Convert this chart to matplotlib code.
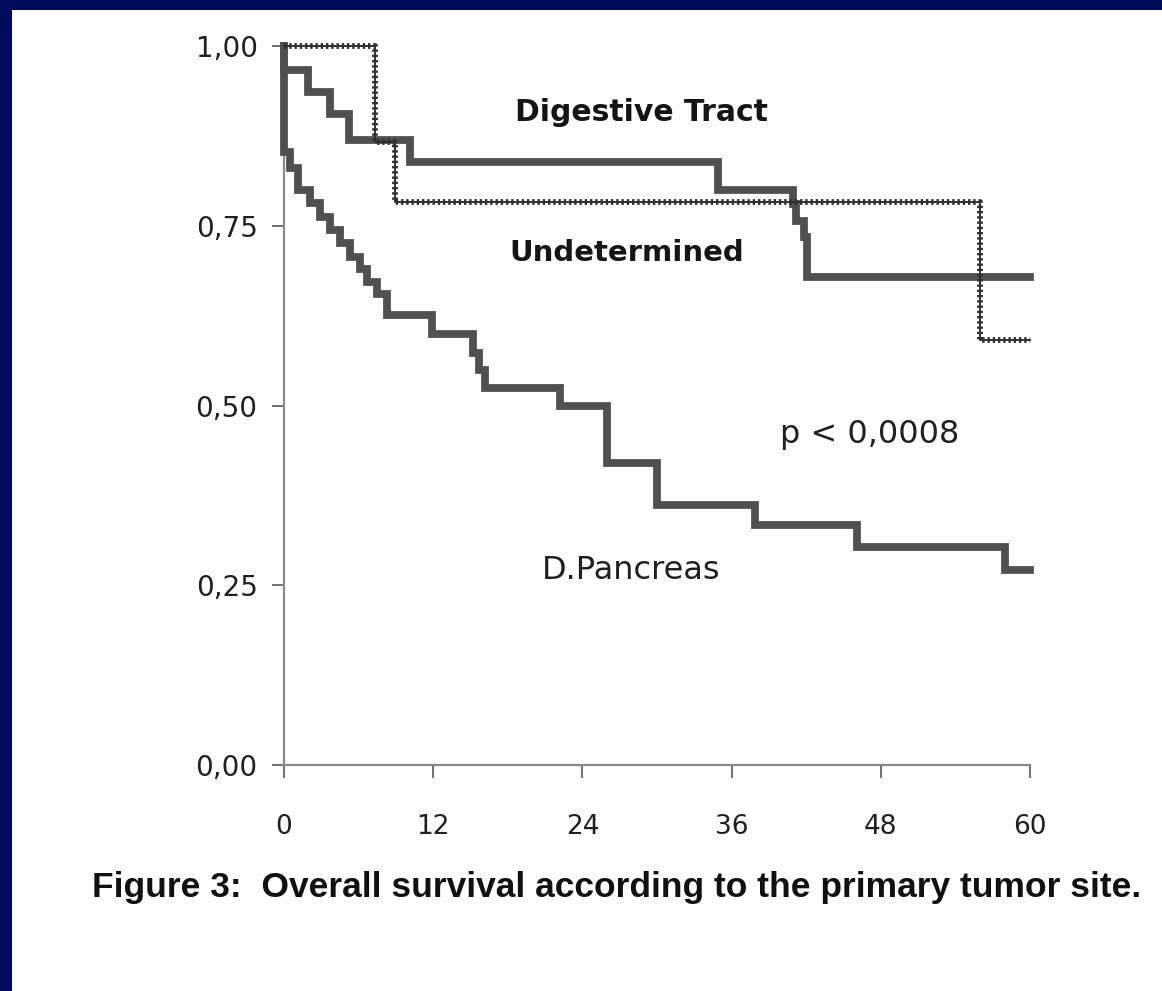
import matplotlib.pyplot as plt
from matplotlib.patches import Rectangle

# Kaplan-Meier curves (months, survival)
pancreas_t = [0, 0, 0.5, 1.1, 2.1, 2.9, 3.7, 4.5, 5.3, 6.1, 6.7, 7.5, 8.3,
              11.9, 15.2, 15.7, 16.2, 22.2, 26.0, 30.0, 37.9, 46.1, 58.0, 60]
pancreas_s = [1.0, 0.853, 0.83, 0.80, 0.782, 0.762, 0.744, 0.726, 0.707, 0.69,
              0.672, 0.655, 0.626, 0.60, 0.573, 0.55, 0.524, 0.50, 0.42,
              0.362, 0.334, 0.303, 0.271, 0.271]

digestive_t = [0, 0, 1.9, 3.7, 5.2, 10.1, 34.9, 40.9, 41.2, 41.8, 42.1, 60]
digestive_s = [1.0, 0.967, 0.936, 0.905, 0.869, 0.839, 0.80, 0.78, 0.757,
               0.735, 0.679, 0.679]

undet_t = [0, 7.3, 8.9, 56.0, 60]
undet_s = [1.0, 0.866, 0.783, 0.591, 0.591]

x_ticks = [0, 12, 24, 36, 48, 60]
y_ticks = [0.0, 0.25, 0.5, 0.75, 1.0]
y_labels = ["0,00", "0,25", "0,50", "0,75", "1,00"]

W, H = 1162, 991


def make_plot():
    fig = plt.figure(figsize=(W / 100, H / 100), dpi=100)
    fig.patch.set_facecolor("#000b5c")
    fig.patches.append(Rectangle((12 / W, 0), 1 - 12 / W, (H - 10) / H,
                                 transform=fig.transFigure, facecolor="white",
                                 edgecolor="none", zorder=-10))

    ax = fig.add_axes([284 / W, (H - 765) / H, (1030 - 284) / W, (765 - 46) / H])
    ax.set_facecolor("none")

    line_col = "#505050"
    ax.step(digestive_t, digestive_s, where="post", color=line_col, lw=5.6,
            clip_on=False, solid_joinstyle="miter", zorder=3)
    ax.step(pancreas_t, pancreas_s, where="post", color=line_col, lw=5.6,
            clip_on=False, solid_joinstyle="miter", zorder=3)
    # hatched curve: thin core plus dense dotted overlay
    ax.step(undet_t, undet_s, where="post", color="#303030", lw=1.4,
            clip_on=False, zorder=4)
    ax.step(undet_t, undet_s, where="post", color="#303030", lw=4.2,
            linestyle=(0, (0.4, 0.5)), clip_on=False, zorder=4)

    ax.set_xlim(0, 60)
    ax.set_ylim(0, 1)
    ax.set_xticks(x_ticks)
    ax.set_xticklabels([str(v) for v in x_ticks])
    ax.set_yticks(y_ticks)
    ax.set_yticklabels(y_labels)

    for side in ["top", "right"]:
        ax.spines[side].set_visible(False)
    for side in ["left", "bottom"]:
        ax.spines[side].set_color("#8a8a8a")
        ax.spines[side].set_linewidth(1.6)
    ax.tick_params(axis="both", direction="out", length=9, width=1.4,
                   color="#707070", labelcolor="#202020")
    ax.tick_params(axis="x", pad=26, labelsize=19)
    ax.tick_params(axis="y", pad=10, labelsize=20)

    ax.text(0.4786, 0.908, "Digestive Tract", transform=ax.transAxes,
            ha="center", va="center", fontsize=21.5, fontweight="bold",
            color="#151515")
    ax.text(0.46, 0.712, "Undetermined", transform=ax.transAxes,
            ha="center", va="center", fontsize=21, fontweight="bold",
            color="#151515")
    ax.text(0.7855, 0.459, "p < 0,0008", transform=ax.transAxes,
            ha="center", va="center", fontsize=23, color="#202020")
    ax.text(0.465, 0.271, "D.Pancreas", transform=ax.transAxes,
            ha="center", va="center", fontsize=23, color="#202020")

    fig.text(617 / W, 1 - 887 / H,
             "Figure 3:  Overall survival according to the primary tumor site.",
             ha="center", va="center", fontsize=25.5, fontweight="bold",
             family=["Liberation Sans Narrow", "Liberation Sans", "DejaVu Sans"],
             color="#111111")

    fig.savefig("out.png", dpi=100, facecolor=fig.get_facecolor())


if __name__ == "__main__":
    make_plot()
